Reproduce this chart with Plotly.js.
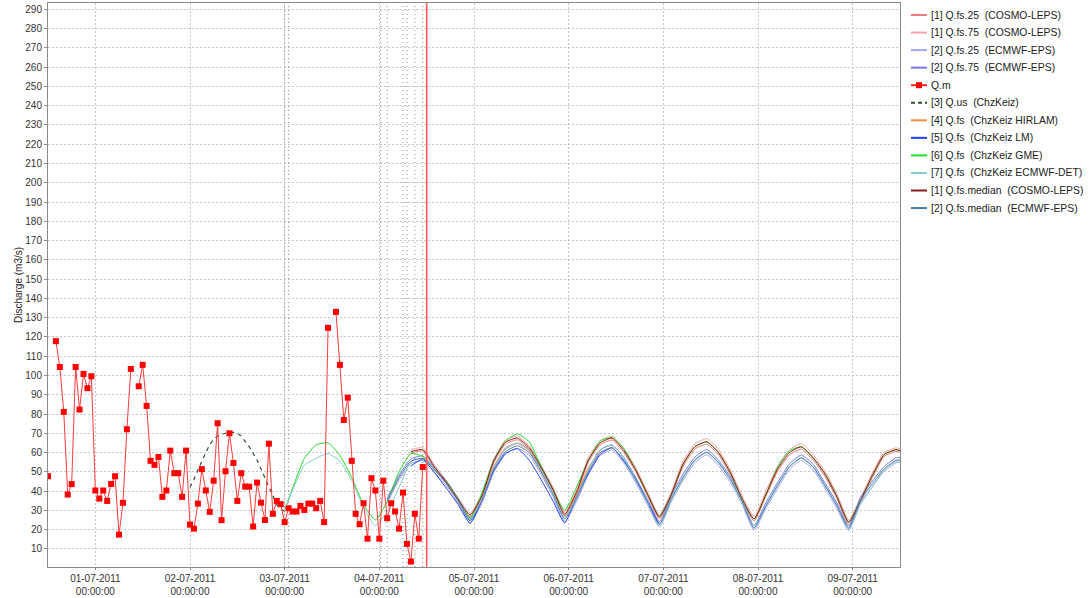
<!DOCTYPE html>
<html><head><meta charset="utf-8">
<script src="https://cdn.plot.ly/plotly-3.0.1.min.js"></script>
<style>html,body{margin:0;padding:0;background:#fff;}#chart{width:1090px;height:598px;}</style>
</head><body><div id="chart"></div>
<script>
// ---------- data ----------
const obsStart = '2011-06-30T12:00:00';
const qm = [47.7,null,117.8,104.4,81.1,38.2,43.6,104.4,82.3,100.8,93.4,99.6,
 40.3,36.1,40.3,34.9,43.7,47.7,17.4,33.9,72.1,103.4,null,94.4,105.5,84.2,55.7,53.6,57.7,37.0,40.3,61.0,49.3,49.3,37.0,61.0,
 22.6,20.5,33.5,51.4,40.3,29.2,45.4,75.2,24.9,50.3,70.0,54.6,34.9,49.3,42.3,42.3,21.6,44.4,34.0,25.0,64.6,28.2,34.9,33.2,
 23.9,31.1,29.4,29.4,32.3,30.2,33.5,33.5,31.1,34.9,23.9,124.7,null,133.0,105.5,76.9,88.5,55.7,28.2,22.8,33.7,15.3,46.7,40.3,
 15.3,45.4,25.9,33.7,29.4,20.5,39.2,12.6,3.4,28.2,15.3,52.5];

const usStart = '2011-07-02T00:00:00';
const qus = [42,46,51,56,60,64,67,68.5,69.5,70,70.5,70.5,70,68.5,66,63,59.6,56,51.5,47,42.5,37.5,33,30.5,29.5];

const fcBase = '2011-07-03T00:00:00';
const fcHours = [0,2,5,8,11,14,17,20,23,26,29,32,35,38,41,44,47,50,53,56,59,62,65,68,71,74,77,80,83,86,89,92,95,98,101,104,107,110,113,116,119,122,125,128,131,134,137,140,143,146,149,152,155,156];

const N = null;
const cosmoQ25 = [N,N,N,N,N,N,N,N,N,N,N,59.8,60.7,51.8,43.8,34.6,26.8,36.5,54.6,64.5,66.6,61.8,51.5,40.2,27.2,38.4,55,64,66.5,60,50,37.4,25.6,37.2,52.8,61.8,64.3,58.8,48.4,34.8,24.5,37.2,50.4,58.8,61.8,56,47.6,36,22.8,34,47,58,60.6,60.2];
const cosmoQ75 = [N,N,N,N,N,N,N,N,N,N,N,61.5,62.5,53.5,45.5,36.5,28.5,38.5,56.5,66.5,68.5,63.5,53.5,42,29,40.5,57.5,66.2,68.5,62.2,52.2,39.5,27.5,39.5,55.5,64.5,67.2,61.5,51,37.5,26.8,40,53,61.5,64.7,58.8,50.2,38.6,25,36.6,49.5,60.2,62.4,62];
const ecmwfQ25 = [N,N,N,N,N,N,N,N,N,33.8,45.8,54.3,55.8,49.8,42.8,33.8,23.3,33.6,49.6,59.2,62.2,58.7,48.7,37.2,24.2,34.6,48.6,58.6,61.2,54.6,44.3,32.8,21.4,34.4,45.6,54.8,58.8,53.2,44.4,33,19.8,31,41.6,51.2,55.9,51.1,41.3,31,19.6,34,42.4,50.2,54.7,55];
const ecmwfQ75 = [N,N,N,N,N,N,N,N,N,36.2,48.2,56.7,58.2,52.2,45.2,36.2,25.7,36.4,52.4,61.8,64.8,61.3,51.3,39.8,26.8,37.4,51.4,61.4,63.8,57.4,46.9,35.6,24,37.6,48.8,57.6,61.6,56,47.4,35.8,22,34,44.6,54.2,58.7,53.9,44.1,33.8,21.8,36.8,45.2,52.8,57.3,57.4];
const hirlam = [N,N,N,N,N,N,N,N,N,N,N,N,58.5,51,44,35,25,36,52.5,62.5,64.8,61,51,40,27,38,52,61,N,N,N,N,N,N,N,N,N,N,N,N,N,N,N,N,N,N,N,N,N,N,N,N,N,N];
const lm = [N,N,N,N,N,N,N,N,N,N,N,53,56.5,49.5,41.5,33,23.3,35,50.5,59.5,62,56,46,35,23.5,37,49,59,62.5,55.5,46.5,34.5,22.5,N,N,N,N,N,N,N,N,N,N,N,N,N,N,N,N,N,N,N,N,N];
const gme = [30,41.5,57,64,65,58.5,47,33,25,34.6,50,59.5,58,51,45,36,26,39,56,66,69.7,65.5,53,41,30,42,56,66,67.8,62,51,38,27,38,54,63,65.5,60,49.5,35.5,25.5,38,52.5,61,63,57,49,37,24,35,48,59,61.5,61];
const ecmwfDet = [30,40.5,53.5,57,59.5,55.5,45.5,31.5,22,29.5,42,55,57,51.5,44.5,35.5,25,36,52,62,65,61.5,51,39.5,26.5,37,51,61.5,64,57,46,34.5,21.5,35,46.5,56,60,55,46.5,35,22,32,43,52.5,57,52.5,43,32.5,20,33,42,51,55.5,55.5];
const cosmoMed = [N,N,N,N,N,N,N,N,N,N,N,60.5,61.5,52.5,44.6,35.4,27.6,37.5,55.6,65.4,67.5,62.6,52.4,41,28,39.5,56.1,65,67.5,61,51,38.4,26.5,38.2,54,63,65.6,60,49.6,36,25.5,38.4,51.6,60,63,57.3,48.8,37.2,23.8,35.2,48.2,59,61.5,61];
const ecmwfMed = [N,N,N,N,N,N,N,N,N,35,47,55.5,57,51,44,35,24.5,35,51,60.5,63.5,60,50,38.5,25.5,36,50,60,62.5,56,45.6,34.2,22.7,36,47.2,56.2,60.2,54.6,45.9,34.4,20.8,32.5,43.1,52.7,57.3,52.5,42.7,32.4,20.7,35.4,43.8,51.5,56,56.2];

const forecastStarts = ['2011-07-03 00:00','2011-07-03 01:00','2011-07-04 00:20','2011-07-04 02:00','2011-07-04 06:00','2011-07-04 07:00','2011-07-04 09:00','2011-07-04 11:00'];
const nowTime = '2011-07-04 12:00';

const legendNames = ['[1] Q.fs.25  (COSMO-LEPS)','[1] Q.fs.75  (COSMO-LEPS)','[2] Q.fs.25  (ECMWF-EPS)','[2] Q.fs.75  (ECMWF-EPS)','Q.m','[3] Q.us  (ChzKeiz)','[4] Q.fs  (ChzKeiz HIRLAM)','[5] Q.fs  (ChzKeiz LM)','[6] Q.fs  (ChzKeiz GME)','[7] Q.fs  (ChzKeiz ECMWF-DET)','[1] Q.fs.median  (COSMO-LEPS)','[2] Q.fs.median  (ECMWF-EPS)'];
const legendColors = ['#f07878','#f4a4a4','#a4a4f0','#7878e4','#ff2020','#2f4f2f','#ff8a3a','#2040ff','#22dd22','#84cccc','#8b1c1c','#4a7ca4'];

// ---------- helpers ----------
function addH(base, h){ const d=new Date(Date.parse(base+'Z')+h*3600e3); return d.toISOString().slice(0,16).replace('T',' '); }
const obsT = qm.map((_,i)=>addH(obsStart,i));
const usT = qus.map((_,i)=>addH(usStart,i));
const fcT = fcHours.map(h=>addH(fcBase,h));

function line(name, y, color, extra){
  return Object.assign({type:'scatter', mode:'lines', x:fcT, y:y, name:name, showlegend:false,
    connectgaps:false, line:{color:color, width:1, shape:'spline', smoothing:0.5}, hoverinfo:'skip'}, extra||{});
}
const traces = [
  line(legendNames[0], cosmoQ25, legendColors[0]),
  line(legendNames[1], cosmoQ75, legendColors[1]),
  line(legendNames[2], ecmwfQ25, legendColors[2]),
  line(legendNames[3], ecmwfQ75, legendColors[3]),
  {type:'scatter', mode:'lines', x:usT, y:qus, name:legendNames[5], showlegend:false, line:{color:legendColors[5], width:1.2, dash:'4px,4px'}},
  line(legendNames[6], hirlam, legendColors[6]),
  line(legendNames[7], lm, legendColors[7]),
  line(legendNames[8], gme, legendColors[8]),
  line(legendNames[9], ecmwfDet, legendColors[9]),
  line(legendNames[10], cosmoMed, legendColors[10]),
  line(legendNames[11], ecmwfMed, legendColors[11]),
  {type:'scatter', mode:'lines+markers', x:obsT, y:qm, name:'Q.m', showlegend:false, connectgaps:false,
    line:{color:'#ff3a3a', width:1}, marker:{symbol:'square', size:6, color:'#ff0000'}}
];

// ---------- layout ----------
const L=48, R=900, T=3, B=567, W=1090, H=598;
const px = x => (x-L)/(R-L);
const py = y => (B-y)/(B-T);
const shapes = [];
const annotations = [];
forecastStarts.forEach(t=>shapes.push({type:'line', xref:'x', yref:'paper', x0:t, x1:t, y0:0, y1:1,
  line:{color:'#8a8a8a', width:1, dash:'1px,3px'}, layer:'below'}));
shapes.push({type:'line', xref:'x', yref:'paper', x0:nowTime, x1:nowTime, y0:0, y1:1, line:{color:'#ff5a5a', width:1.6}});

legendNames.forEach((n,i)=>{
  const yc = 15 + i*17.55;
  const isDash = i===5;
  shapes.push({type:'line', xref:'paper', yref:'paper', x0:px(911), x1:px(927), y0:py(yc), y1:py(yc),
    line:{color:legendColors[i], width:2, dash: isDash ? '4px,3px' : 'solid'}});
  if(i===4){
    shapes.push({type:'rect', xref:'paper', yref:'paper', x0:px(916), x1:px(922), y0:py(yc-3), y1:py(yc+3),
      fillcolor:'#ff0000', line:{width:0}});
  }
  annotations.push({xref:'paper', yref:'paper', x:px(929), y:py(yc), xanchor:'left', yanchor:'middle',
    text:n.replace(/  /g,'\u00a0\u00a0'), showarrow:false, font:{family:'Liberation Sans, Arial, sans-serif', size:10.4, color:'#222'}});
});

const layout = {
  width:W, height:H,
  margin:{l:L, r:W-R, t:T, b:H-B},
  paper_bgcolor:'#ffffff', plot_bgcolor:'#ffffff',
  showlegend:false,
  font:{family:'Liberation Sans, Arial, sans-serif', size:10, color:'#333'},
  xaxis:{type:'date', range:['2011-06-30 12:00','2011-07-09 12:00'], tick0:'2011-07-01', dtick:86400000,
    tickformat:'%d-%m-%Y<br>%H:%M:%S', showgrid:true, gridcolor:'#c8c8c8', griddash:'2px,2px', gridwidth:1,
    showline:true, linecolor:'#8a8a8a', linewidth:1, mirror:true, ticks:'outside', ticklen:2, tickcolor:'#8a8a8a',
    tickfont:{size:10, color:'#333'}, zeroline:false, automargin:false},
  yaxis:{range:[0.6,293.3], tick0:0, dtick:10, showgrid:true, gridcolor:'#c8c8c8', griddash:'2px,2px', gridwidth:1,
    showline:true, linecolor:'#8a8a8a', linewidth:1, mirror:true, ticks:'outside', ticklen:3, tickcolor:'#8a8a8a',
    tickfont:{size:10, color:'#333'}, zeroline:false, automargin:false,
    title:{text:'Discharge (m3/s)', font:{size:10, color:'#222'}, standoff:0}},
  shapes:shapes, annotations:annotations
};
Plotly.newPlot('chart', traces, layout, {staticPlot:true, displayModeBar:false});
</script></body></html>
